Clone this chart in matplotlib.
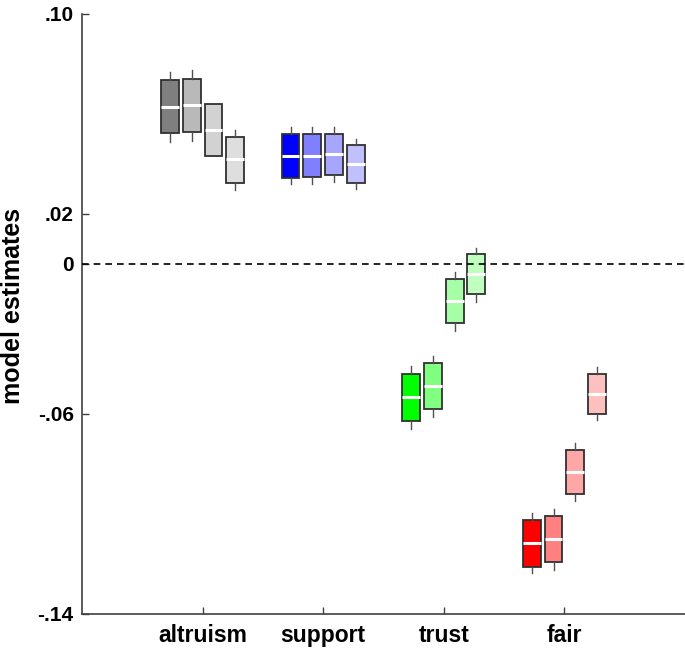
import matplotlib
matplotlib.use("Agg")
import matplotlib.pyplot as plt
import numpy as np

plt.rcParams['font.family'] = ['Liberation Sans', 'DejaVu Sans']
plt.rcParams['font.weight'] = 'bold'

categories = ['altruism', 'support', 'trust', 'fair']

# box stats per category, 4 boxes each (whisker low, q1, median, q3, whisker high)
altruism_lo = [0.0487, 0.0493, 0.0433, 0.0296]
altruism_q1 = [0.0523, 0.0529, 0.0433, 0.0325]
altruism_med = [0.0627, 0.0636, 0.0537, 0.0419]
altruism_q3 = [0.0736, 0.0741, 0.0639, 0.0508]
altruism_hi = [0.0769, 0.0776, 0.0639, 0.0536]

support_lo = [0.0319, 0.0320, 0.0329, 0.0300]
support_q1 = [0.0345, 0.0347, 0.0356, 0.0323]
support_med = [0.0432, 0.0433, 0.0439, 0.0400]
support_q3 = [0.0519, 0.0519, 0.0521, 0.0476]
support_hi = [0.0547, 0.0547, 0.0547, 0.0499]

trust_lo = [-0.0660, -0.0611, -0.0267, -0.0151]
trust_q1 = [-0.0627, -0.0581, -0.0237, -0.0121]
trust_med = [-0.0533, -0.0488, -0.0149, -0.0041]
trust_q3 = [-0.0440, -0.0396, -0.0061, 0.0039]
trust_hi = [-0.0408, -0.0367, -0.0033, 0.0064]

fair_lo = [-0.1237, -0.1223, -0.0949, -0.0625]
fair_q1 = [-0.1211, -0.1193, -0.0921, -0.0599]
fair_med = [-0.1116, -0.1101, -0.0833, -0.0519]
fair_q3 = [-0.1025, -0.1009, -0.0745, -0.0440]
fair_hi = [-0.0997, -0.0981, -0.0717, -0.0413]

colors = [
    ['#7f7f7f', '#b9b9b9', '#d2d2d2', '#dedede'],
    ['#0000ff', '#8080ff', '#a6a6ff', '#c0c0ff'],
    ['#00ff00', '#80ff80', '#a6ffa6', '#c0ffc0'],
    ['#ff0000', '#ff8080', '#ffa6a6', '#ffc0c0'],
]

groups = [
    (altruism_lo, altruism_q1, altruism_med, altruism_q3, altruism_hi),
    (support_lo, support_q1, support_med, support_q3, support_hi),
    (trust_lo, trust_q1, trust_med, trust_q3, trust_hi),
    (fair_lo, fair_q1, fair_med, fair_q3, fair_hi),
]

fig = plt.figure(figsize=(6.85, 6.48), dpi=100)
ax = fig.add_axes([0.1197, 0.0525, 0.8803, 0.9259])

offsets = np.array([-0.27, -0.09, 0.09, 0.27])
for g, (lo, q1, med, q3, hi) in enumerate(groups):
    stats = []
    for i in range(4):
        stats.append(dict(whislo=lo[i], q1=q1[i], med=med[i], q3=q3[i], whishi=hi[i], fliers=[]))
    pos = g + 1 + offsets
    bp = ax.bxp(stats, positions=pos, widths=0.147, patch_artist=True,
                showcaps=False, showfliers=False,
                boxprops=dict(edgecolor='#303030', linewidth=1.3),
                whiskerprops=dict(color='#505050', linewidth=1.0),
                medianprops=dict(color='white', linewidth=2.2))
    for patch, c in zip(bp['boxes'], colors[g]):
        patch.set_facecolor(c)

ax.axhline(0, color='black', linestyle=(0, (4, 3)), linewidth=1.2, zorder=5)

ax.set_xlim(0, 5)
ax.set_ylim(-0.14, 0.10)
ax.set_xticks([1, 2, 3, 4])
ax.set_xticklabels(categories)
ax.set_yticks([-0.14, -0.06, 0, 0.02, 0.10])
ax.set_yticklabels(['-.14', '-.06', '0', '.02', '.10'])
ax.tick_params(direction='in', length=5, width=1, color='#404040', labelsize=15, pad=6)
ax.tick_params(axis='x', labelsize=16.5, pad=7)
ax.set_ylabel('model estimates', fontsize=18, fontweight='bold', labelpad=2)
ax.yaxis.set_label_coords(-0.095, 0.513)

for s in ['top', 'right']:
    ax.spines[s].set_visible(False)
for s in ['left', 'bottom']:
    ax.spines[s].set_color('#404040')
    ax.spines[s].set_linewidth(1.2)

fig.savefig('out.png', dpi=100)
